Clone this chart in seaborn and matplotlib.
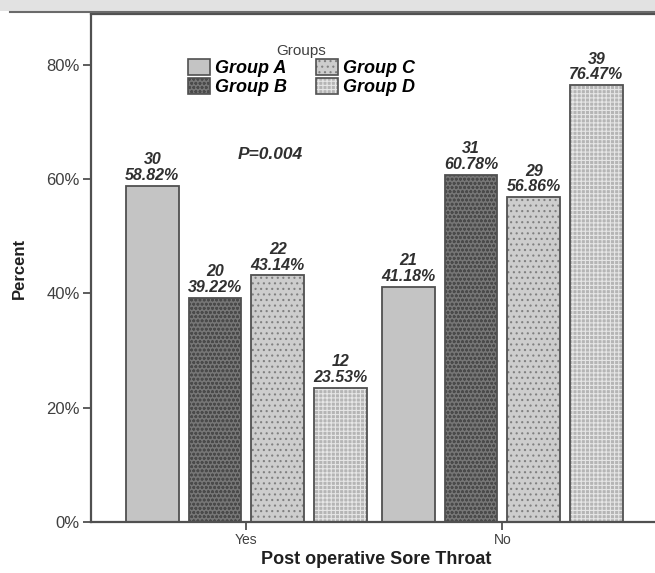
import numpy as np
import pandas as pd
import seaborn as sns
import matplotlib.pyplot as plt
from matplotlib.colors import to_rgba
from matplotlib.patches import Rectangle, Patch

# data
answers = ["Yes", "No"]
groups = ["Group A", "Group B", "Group C", "Group D"]
counts_yes = [30, 20, 22, 12]
counts_no = [21, 31, 29, 39]
pct_yes = [58.82, 39.22, 43.14, 23.53]
pct_no = [41.18, 60.78, 56.86, 76.47]
yticks = [0, 20, 40, 60, 80]

fills = ["#c4c4c4", "#767676", "#cdcdcd", "#b5b5b5"]
hatches = ["", "oooo", "...", "++++"]
hatch_cols = ["#c4c4c4", "#4a4a4a", "#808080", "#e6e6e6"]

df = pd.DataFrame({
    "answer": np.repeat(answers, len(groups)),
    "group": groups * 2,
    "count": counts_yes + counts_no,
    "pct": pct_yes + pct_no,
})

plt.rcParams["hatch.linewidth"] = 0.8
fig = plt.figure(figsize=(6.55, 5.73), dpi=100)
ax = fig.add_axes([91 / 655, 1 - 522 / 573, 570 / 655, 508 / 573])

sns.barplot(data=df, x="answer", y="pct", hue="group", order=answers,
            hue_order=groups, palette=fills, width=0.98, gap=0.16,
            edgecolor="#505050", linewidth=1.3, ax=ax, legend=False)

for i, cont in enumerate(ax.containers):
    for j, bar in enumerate(cont):
        bar.set_hatch(hatches[i])
        bar._hatch_color = to_rgba(hatch_cols[i])
        row = df[(df["group"] == groups[i]) & (df["answer"] == answers[j])].iloc[0]
        ax.text(bar.get_x() + bar.get_width() / 2, bar.get_height() + 0.5,
                f"{row['count']}\n{row['pct']:.2f}%", ha="center", va="bottom",
                fontsize=11.5, fontweight="bold", fontstyle="italic",
                color="#303030", linespacing=1.05, family="Liberation Sans")

ax.set_ylim(0, 88.9)
ax.set_xlim(-0.607, 1.62)
ax.set_yticks(yticks)
ax.set_yticklabels([f"{t}%" for t in yticks], fontsize=12, color="#404040",
                   family="Liberation Sans")
ax.set_xticks([0, 1])
ax.set_xticklabels(answers, fontsize=10, color="#404040", family="Liberation Sans")
ax.tick_params(axis="both", direction="out", length=6, width=1.3, color="#505050",
               pad=2)
for s in ax.spines.values():
    s.set_color("#505050")
    s.set_linewidth(1.6)
ax.spines["right"].set_visible(False)

ax.set_ylabel("Percent", fontsize=12, fontweight="bold", family="Liberation Sans",
              color="#202020", labelpad=14)
ax.set_xlabel("Post operative Sore Throat", fontsize=13, fontweight="bold",
              family="Liberation Sans", color="#202020", labelpad=3)

ax.text(0.315, 0.723, "P=0.004", transform=ax.transAxes, ha="center", va="center",
        fontsize=12.5, fontweight="bold", fontstyle="italic", color="#303030",
        family="Liberation Sans")

handles = [Patch(facecolor=fills[i], edgecolor="#505050", hatch=hatches[i],
                 linewidth=1.2) for i in range(4)]
for i, h in enumerate(handles):
    h._hatch_color = to_rgba(hatch_cols[i])
leg = ax.legend(handles, groups, title="Groups", ncol=2, frameon=False,
                loc="upper left", bbox_to_anchor=(0.145, 0.97),
                prop={"family": "Liberation Sans", "weight": "bold",
                      "style": "italic", "size": 13},
                title_fontproperties={"family": "Liberation Sans", "size": 11},
                handlelength=1.2, handleheight=1.0, handletextpad=0.3,
                columnspacing=1.6, labelspacing=0.05, borderpad=0.3)
leg.get_title().set_color("#404040")

# grey caption band cut off at the top of the image
fig.patches.append(Rectangle((0, 1 - 11 / 573), 1, 11 / 573, transform=fig.transFigure,
                             facecolor="#e2e2e2", edgecolor="none", zorder=0))
fig.lines.append(plt.Line2D([10 / 655, 1], [1 - 12 / 573] * 2, transform=fig.transFigure,
                            color="#6a6a6a", linewidth=1.5))

fig.savefig("out.png", dpi=100)
